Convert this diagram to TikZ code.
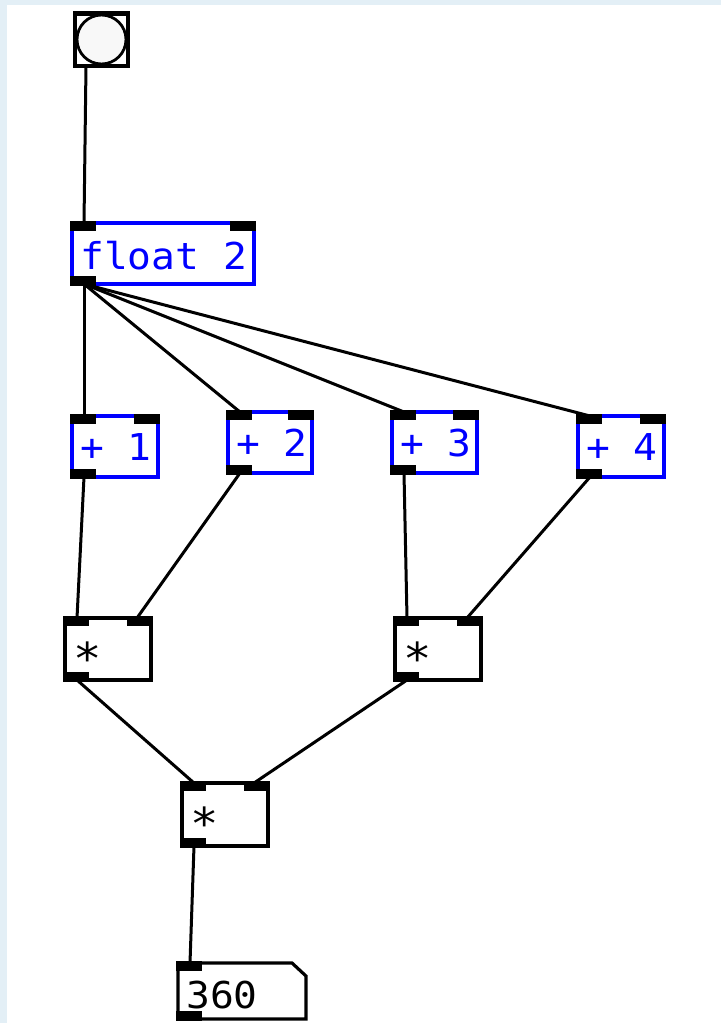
\documentclass[tikz,border=0pt]{standalone}
\usepackage{fontspec}
\usepackage{tikz}
\usetikzlibrary{calc}
\newfontfamily\pdfont[FakeStretch=1.07]{DejaVu Sans Mono}
\definecolor{pdblue}{RGB}{0,0,255}
\definecolor{pdframe}{RGB}{227,239,246}
\definecolor{bangfill}{RGB}{248,248,248}
\def\iow{26}
\def\ioh{8}

\tikzset{
	pdbox/.style={draw, line width=3.2pt, fill=white, inner sep=0pt, outer sep=0pt, anchor=north west},
	pdtext/.style={inner sep=0pt, anchor=base west, font=\pdfont\fontsize{37}{40}\selectfont},
	cord/.style={line width=3pt},
}

% box, inlets, outlet and port coordinates of one object
\newcommand{\pdobj}[8]{%
	\node[pdbox, draw=#6, minimum width=#4pt, minimum height=#5pt] (#1) at (#2,#3) {};
	\node[pdtext, text=#6] (#1-txt) at ($(#1.north west)+(8,#8)$) {#7};
	\fill ($(#1.north west)+(-1.6,-1.6)$) rectangle ++(\iow,\ioh+1.6);
	\fill ($(#1.north east)+(-\iow+1.6,-1.6)$) rectangle ++(\iow,\ioh+1.6);
	\fill ($(#1.south west)+(-1.6,1.6)$) rectangle ++(\iow,-\ioh-1.6);
	\coordinate (#1-i0) at ($(#1.north west)+(12,0)$);
	\coordinate (#1-i1) at ($(#1.north east)+(-14,0)$);
	\coordinate (#1-o0) at ($(#1.south west)+(12,0)$);
}

\begin{document}
\begin{tikzpicture}[x=1pt, y=-1pt]

	\useasboundingbox (0,0) rectangle (721,1023);
	\fill[pdframe] (0,0) rectangle (721,1023);
	\fill[white] (7,5) rectangle (721,1023);

	% bang
	\node[pdbox, minimum width=53pt, minimum height=53pt] (bang) at (75,13) {};
	\fill ($(bang.north west)+(-1.6,-1.6)$) rectangle ($(bang.north east)+(1.6,3)$);
	\fill ($(bang.south west)+(-1.6,1.6)$) rectangle ($(bang.south east)+(1.6,-2)$);
	\draw[line width=2.8pt, fill=bangfill] (bang.center) circle (24.5pt);
	\coordinate (bang-o0) at ($(bang.south west)+(11,0)$);

	\pdobj{float}{72}{223}{182}{61}{pdblue}{float 2}{46}
	\pdobj{add1}{72}{416}{86}{61}{pdblue}{+ 1}{44}
	\pdobj{add2}{228}{412}{84}{61}{pdblue}{+ 2}{44}
	\pdobj{add3}{392}{412}{85}{61}{pdblue}{+ 3}{44}
	\pdobj{add4}{578}{416}{86}{61}{pdblue}{+ 4}{44}
	\pdobj{mulA}{65}{618}{86}{62}{black}{\fontsize{44}{44}\selectfont *}{56}
	\pdobj{mulB}{395}{618}{86}{62}{black}{\fontsize{44}{44}\selectfont *}{56}
	\pdobj{mulC}{182}{783}{86}{63}{black}{\fontsize{44}{44}\selectfont *}{56}

	% number box
	\node[inner sep=0pt, outer sep=0pt, minimum width=128pt, minimum height=56pt, anchor=north west] (num) at (178,963) {};
	\draw[line width=3.2pt, fill=white] (num.north west) -- ($(num.north east)+(-14,0)$) -- ($(num.north east)+(0,13)$) -- (num.south east) -- (num.south west) -- cycle;
	\fill ($(num.north west)+(-1.6,-1.6)$) rectangle ++(\iow,\ioh+1.6);
	\fill ($(num.south west)+(-1.6,1.6)$) rectangle ++(\iow,-\ioh-1.6);
	\node[pdtext] (num-txt) at ($(num.north west)+(8,45)$) {360};
	\coordinate (num-i0) at ($(num.north west)+(12,0)$);

	\draw[cord] (bang-o0) -- (float-i0);
	\foreach \n in {add1,add2,add3,add4}
		\draw[cord] (float-o0) -- (\n-i0);
	\draw[cord] (add1-o0) -- (mulA-i0);
	\draw[cord] (add2-o0) -- (mulA-i1);
	\draw[cord] (add3-o0) -- (mulB-i0);
	\draw[cord] (add4-o0) -- (mulB-i1);
	\draw[cord] (mulA-o0) -- (mulC-i0);
	\draw[cord] (mulB-o0) -- (mulC-i1);
	\draw[cord] (mulC-o0) -- (num-i0);

\end{tikzpicture}
\end{document}
